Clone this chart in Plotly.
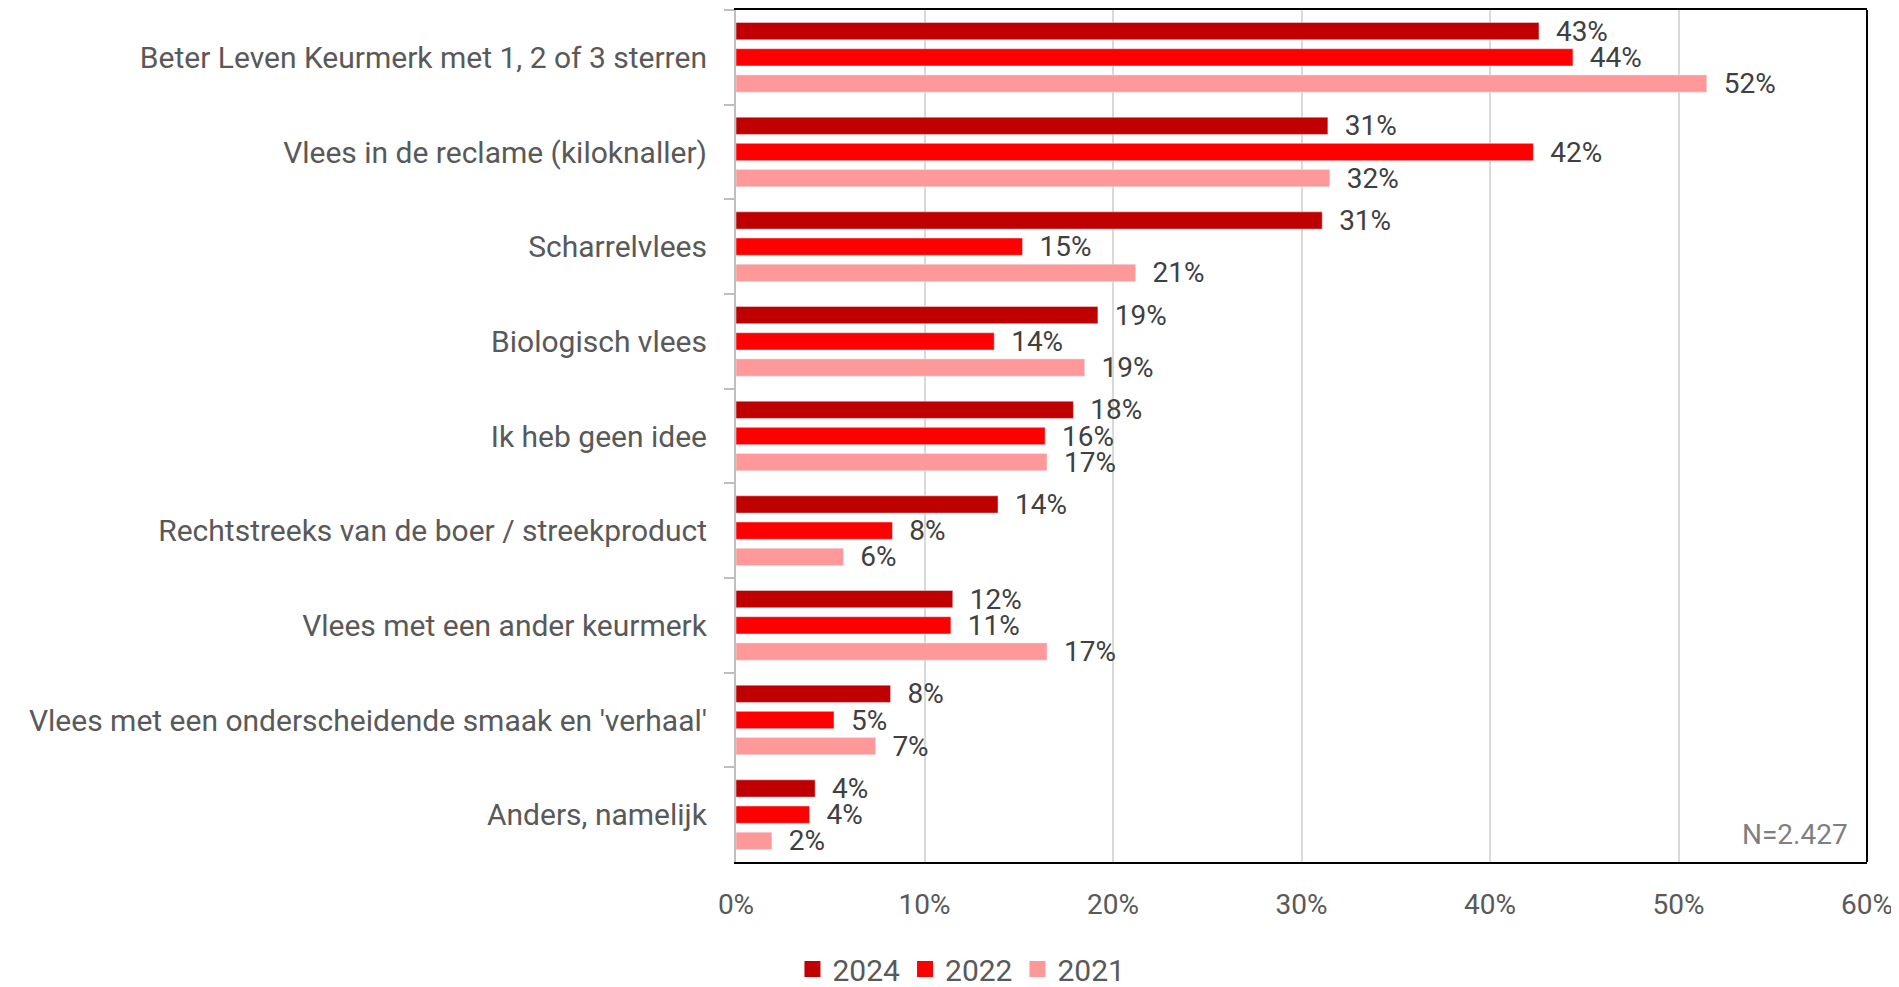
# Herkomst van vlees - staafdiagram per jaar

import plotly.graph_objects as go

# %% Data
categorieen = [
    "Beter Leven Keurmerk met 1, 2 of 3 sterren",
    "Vlees in de reclame (kiloknaller)",
    "Scharrelvlees",
    "Biologisch vlees",
    "Ik heb geen idee",
    "Rechtstreeks van de boer / streekproduct",
    "Vlees met een ander keurmerk",
    "Vlees met een onderscheidende smaak en 'verhaal'",
    "Anders, namelijk",
]

jaren = ["2024", "2022", "2021"]

waarden_2024 = [42.6, 31.4, 31.1, 19.2, 17.9, 13.9, 11.5, 8.2, 4.2]
waarden_2022 = [44.4, 42.3, 15.2, 13.7, 16.4, 8.3, 11.4, 5.2, 3.9]
waarden_2021 = [51.5, 31.5, 21.2, 18.5, 16.5, 5.7, 16.5, 7.4, 1.9]

labels_2024 = ["43%", "31%", "31%", "19%", "18%", "14%", "12%", "8%", "4%"]
labels_2022 = ["44%", "42%", "15%", "14%", "16%", "8%", "11%", "5%", "4%"]
labels_2021 = ["52%", "32%", "21%", "19%", "17%", "6%", "17%", "7%", "2%"]

kleuren = ["#C00000", "#FF0000", "#FF9999"]

x_ticks = [0, 10, 20, 30, 40, 50, 60]
x_ticklabels = ["0%", "10%", "20%", "30%", "40%", "50%", "60%"]

FONT = "Roboto"

# %% Figuur
fig = go.Figure()

for jaar, waarden, labels, kleur in zip(
    jaren,
    [waarden_2024, waarden_2022, waarden_2021],
    [labels_2024, labels_2022, labels_2021],
    kleuren,
):
    fig.add_trace(go.Bar(
        y=categorieen,
        x=waarden,
        name=jaar,
        orientation="h",
        marker=dict(color=kleur),
        text=["\u00a0\u00a0" + t for t in labels],
        textposition="outside",
        constraintext="none",
        textfont=dict(family=FONT, size=28, color="#404040"),
        cliponaxis=False,
        showlegend=False,
    ))
    # legenda-item met vierkant symbool
    fig.add_trace(go.Scatter(
        x=[None], y=[None], mode="markers", name=jaar,
        marker=dict(color=kleur, symbol="square", size=17),
        showlegend=True,
    ))

# de pagina heeft 8px body-marge links/boven
fig.update_layout(
    width=1891,
    height=979,
    barmode="group",
    bargap=0.17,
    bargroupgap=0.34,
    plot_bgcolor="white",
    paper_bgcolor="white",
    font=dict(family=FONT, size=26, color="#595959"),
    margin=dict(l=728, r=32, t=2, b=125, autoexpand=False),
    legend=dict(
        orientation="h",
        x=0.5042, xref="container", xanchor="center",
        y=0.0184, yref="container", yanchor="middle",
        font=dict(family=FONT, size=30, color="#595959"),
        itemwidth=30,
        tracegroupgap=0,
        traceorder="normal",
    ),
    showlegend=True,
)

fig.update_xaxes(
    range=[0, 60],
    tickvals=x_ticks,
    ticktext=x_ticklabels,
    showgrid=True,
    gridcolor="#D9D9D9",
    gridwidth=2,
    showline=True,
    linecolor="black",
    linewidth=2,
    mirror=True,
    ticks="",
    ticklabelstandoff=16,
    ticklabeloverflow="allow",
    tickfont=dict(family=FONT, size=28, color="#595959"),
    zeroline=False,
    automargin=False,
)

fig.update_yaxes(
    autorange="reversed",
    showline=True,
    linecolor="#BFBFBF",
    linewidth=2,
    ticks="outside",
    tickson="boundaries",
    ticklen=10,
    tickcolor="#BFBFBF",
    tickwidth=2,
    ticklabelstandoff=21,
    tickfont=dict(family=FONT, size=30, color="#595959"),
    automargin=False,
)

# rechterrand van het plotvlak
fig.add_shape(type="line", xref="paper", yref="paper",
              x0=1, x1=1, y0=0, y1=1, line=dict(color="black", width=2))

fig.add_annotation(
    text="N=2.427", xref="paper", yref="paper",
    x=0.985, y=0.01, xanchor="right", yanchor="bottom",
    showarrow=False,
    font=dict(family=FONT, size=28, color="#7F7F7F"),
)

fig.write_html("out.html")
